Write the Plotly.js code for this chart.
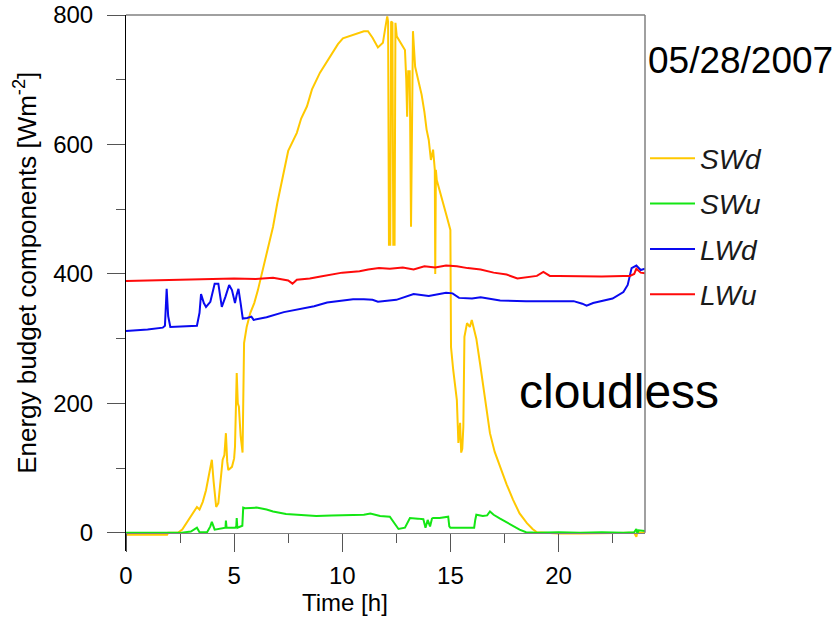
<!DOCTYPE html>
<html>
<head>
<meta charset="utf-8">
<script src="https://cdn.plot.ly/plotly-3.0.1.min.js"></script>
<style>html,body{margin:0;padding:0;background:#fff;}#chart{width:834px;height:618px;}</style>
</head>
<body>
<div id="chart"></div>
<script>
// ---- data ----
const seriesNames = ["SWd", "SWu", "LWd", "LWu"];

const swdTime = [0, 1.9, 1.95, 2.4, 2.6, 2.9, 3.1, 3.28, 3.4, 3.55, 3.7, 3.85, 3.97, 4.05, 4.17, 4.27, 4.38, 4.47, 4.55, 4.62, 4.68, 4.73, 4.9, 5.0, 5.04, 5.12, 5.17, 5.22, 5.3, 5.39, 5.46, 5.58, 5.75, 5.93, 6.1, 6.28, 6.43, 6.8, 7.0, 7.27, 7.5, 7.9, 8.1, 8.37, 8.6, 8.97, 9.3, 9.57, 9.8, 10.03, 10.4, 10.82, 11.0, 11.19, 11.4, 11.65, 11.88, 12.0, 12.08, 12.12, 12.16, 12.22, 12.26, 12.32, 12.36, 12.42, 12.46, 12.52, 12.7, 12.9, 12.96, 13.0, 13.05, 13.12, 13.18, 13.22, 13.27, 13.37, 13.5, 13.67, 13.8, 13.9, 14.0, 14.1, 14.2, 14.28, 14.3, 14.33, 14.37, 14.6, 14.83, 15.0, 15.03, 15.13, 15.3, 15.37, 15.45, 15.5, 15.55, 15.6, 15.65, 15.77, 15.9, 15.99, 16.2, 16.37, 16.6, 16.83, 17.05, 17.3, 17.6, 17.9, 18.2, 18.54, 18.8, 19.0, 19.5, 20, 21, 22, 23, 23.5, 23.6, 23.65, 23.8, 24];
const swdValues = [-3, -3, 0, 0, 5, 20, 32, 40, 36, 48, 66, 90, 113, 80, 40, 46, 80, 113, 120, 154, 110, 97, 102, 115, 133, 247, 200, 195, 150, 124, 293, 318, 340, 355, 375, 401, 422, 473, 510, 556, 590, 618, 640, 659, 685, 711, 728, 741, 755, 764, 768, 772, 775, 775, 765, 750, 757, 782, 798, 790, 445, 445, 790, 788, 445, 445, 788, 767, 758, 746, 700, 643, 713, 713, 473, 600, 775, 720, 700, 677, 650, 623, 607, 576, 592, 561, 400, 561, 545, 515, 489, 468, 287, 252, 205, 139, 170, 124, 130, 164, 303, 324, 318, 329, 300, 262, 205, 154, 125, 102, 75, 51, 30, 15, 6, 1, 0, -1, -1, -1, 0, 0, -6, 2, 0, 0];

const swuTime = [0, 2.5, 3.0, 3.28, 3.4, 3.75, 3.9, 3.97, 4.1, 4.5, 4.6, 4.62, 4.65, 5.05, 5.1, 5.12, 5.15, 5.38, 5.42, 5.5, 6.04, 6.5, 6.8, 7.4, 8.0, 8.8, 9.5, 10.5, 11.0, 11.3, 11.75, 12.2, 12.3, 12.44, 12.6, 12.9, 13.0, 13.13, 13.5, 13.75, 13.85, 13.95, 14.06, 14.15, 14.2, 14.5, 14.9, 14.95, 15.0, 15.5, 16.1, 16.15, 16.2, 16.5, 16.7, 16.83, 17.0, 17.3, 17.6, 17.9, 18.2, 18.5, 19, 20, 21, 22, 23, 23.5, 23.6, 23.65, 23.7, 24];
const swuValues = [0, 0, 2, 8, 1, 1, 10, 17, 5, 7, 8, 19, 8, 8, 10, 23, 8, 11, 39, 38, 39, 36, 33, 29, 28, 26, 27, 27, 28, 30, 26, 25, 20, 12, 6, 8, 15, 23, 22, 21, 8, 20, 10, 22, 23, 23, 25, 10, 8, 8, 8, 20, 28, 26, 27, 33, 28, 22, 16, 10, 5, 1, 0, 1, 0, 1, 0, 1, 6, -1, 4, 3];

const lwdTime = [0, 1.0, 1.7, 1.8, 1.88, 1.95, 2.05, 2.5, 3.28, 3.4, 3.47, 3.6, 3.7, 3.9, 4.0, 4.1, 4.27, 4.35, 4.43, 4.6, 4.77, 4.9, 5.04, 5.12, 5.2, 5.3, 5.4, 5.6, 5.8, 5.9, 6.5, 7.3, 8.05, 8.7, 9.3, 10.0, 10.5, 11.0, 11.4, 11.65, 12.0, 12.5, 13.3, 14.0, 14.8, 15.1, 15.4, 16.0, 16.4, 17.3, 18.5, 19.5, 20.7, 21.1, 21.3, 21.6, 21.9, 22.5, 23.0, 23.2, 23.38, 23.6, 23.8, 24];
const lwdValues = [312, 314, 317, 320, 377, 335, 318, 319, 320, 340, 369, 355, 349, 357, 370, 385, 385, 370, 349, 365, 383, 375, 355, 368, 377, 355, 331, 332, 334, 329, 333, 341, 346, 350, 356, 359, 361, 361, 360, 357, 358, 360, 369, 366, 371, 370, 363, 362, 364, 359, 358, 358, 358, 354, 351, 355, 357, 362, 372, 383, 409, 413, 406, 408];

const lwuTime = [0, 1, 2, 3, 4, 5, 6, 6.8, 7.5, 7.7, 7.9, 8.5, 9, 10, 10.8, 11.2, 11.7, 12.2, 12.8, 13.3, 13.8, 14.3, 14.8, 15.3, 15.8, 16.4, 17.0, 17.6, 18.1, 18.5, 19.0, 19.3, 19.6, 20, 21, 22, 23, 23.3, 23.5, 23.6, 23.8, 24];
const lwuValues = [389, 390, 391, 391, 392, 393, 392, 394, 390, 385, 391, 393, 396, 402, 404, 407, 409, 408, 410, 407, 412, 410, 413, 412, 409, 407, 402, 399, 393, 395, 397, 403, 397, 397, 396, 396, 397, 397, 400, 408, 402, 401];

const xTickVals = [0, 5, 10, 15, 20];
const yTickVals = [0, 200, 400, 600, 800];
const xRange = [0, 24];
const yRange = [-28, 800];

// ---- styles ----
const colors = ["#FFC800", "#14E614", "#0A0AF0", "#FF0A0A"];
const FONT = "Liberation Sans, Arial, sans-serif";

const xs = [swdTime, swuTime, lwdTime, lwuTime];
const ys = [swdValues, swuValues, lwdValues, lwuValues];

const traces = seriesNames.map((n, i) => ({
  x: xs[i], y: ys[i], name: n, type: "scatter", mode: "lines",
  line: {color: colors[i], width: 2}, legendgroup: n
}));

const zeroPos = (0 - yRange[0]) / (yRange[1] - yRange[0]);

const layout = {
  width: 834, height: 618,
  margin: {l: 126, r: 189, t: 15, b: 67, pad: 0},
  paper_bgcolor: "#fff", plot_bgcolor: "#fff",
  font: {family: FONT, size: 23, color: "#000"},
  showlegend: true,
  legend: {
    x: 1.0, xanchor: "left", y: 0.779, yanchor: "top",
    font: {family: FONT, size: 28, color: "#1a1a1a", style: "italic"},
    itemwidth: 45, tracegroupgap: 6, bgcolor: "rgba(0,0,0,0)", borderwidth: 0
  },
  xaxis: {
    range: xRange, anchor: "free", position: zeroPos,
    showline: true, linecolor: "#808080", linewidth: 1,
    showgrid: false, zeroline: false,
    tickmode: "array", tickvals: xTickVals,
    ticks: "outside", ticklen: 18, tickcolor: "#555", tickwidth: 1,
    minor: {dtick: 2.5, tick0: 0, ticks: "outside", ticklen: 9, tickcolor: "#555", tickwidth: 1, showgrid: false},
    tickfont: {family: FONT, size: 24, color: "#000"},
    ticklabelstandoff: 3,
    automargin: false
  },
  yaxis: {
    range: yRange, showline: true, linecolor: "#000", linewidth: 1,
    showgrid: false, zeroline: false,
    tickmode: "array", tickvals: yTickVals,
    ticks: "outside", ticklen: 18, tickcolor: "#555", tickwidth: 1,
    minor: {dtick: 100, tick0: 0, ticks: "outside", ticklen: 9, tickcolor: "#555", tickwidth: 1, showgrid: false},
    tickfont: {family: FONT, size: 24, color: "#000"},
    ticklabelstandoff: 9,
    automargin: false
  },
  shapes: [
    {type: "line", xref: "paper", yref: "paper", x0: 0, x1: 1, y0: 1, y1: 1, line: {color: "#808080", width: 1.5}},
    {type: "line", xref: "paper", yref: "y", x0: 1, x1: 1, y0: 0, y1: yRange[1], line: {color: "#808080", width: 1.5}}
  ],
  annotations: [
    {text: "Time [h]", xref: "paper", yref: "paper", x: 0.422, y: -0.097, xanchor: "center", yanchor: "middle", showarrow: false, font: {family: FONT, size: 24, color: "#000"}},
    {text: "Energy budget components [Wm<sup>-2</sup>]", xref: "paper", yref: "paper", x: -0.1927, y: 0.519, xanchor: "center", yanchor: "middle", textangle: -90, showarrow: false, font: {family: FONT, size: 26, color: "#000"}},
    {text: "05/28/2007", xref: "paper", yref: "paper", x: 1.002, y: 0.916, xanchor: "left", yanchor: "middle", showarrow: false, font: {family: FONT, size: 37, color: "#000"}},
    {text: "cloudless", xref: "paper", yref: "y", x: 0.7534, y: 218, xanchor: "left", yanchor: "middle", showarrow: false, font: {family: FONT, size: 48, color: "#000"}}
  ]
};

Plotly.newPlot("chart", traces, layout, {displayModeBar: false, staticPlot: true});
</script>
</body>
</html>
